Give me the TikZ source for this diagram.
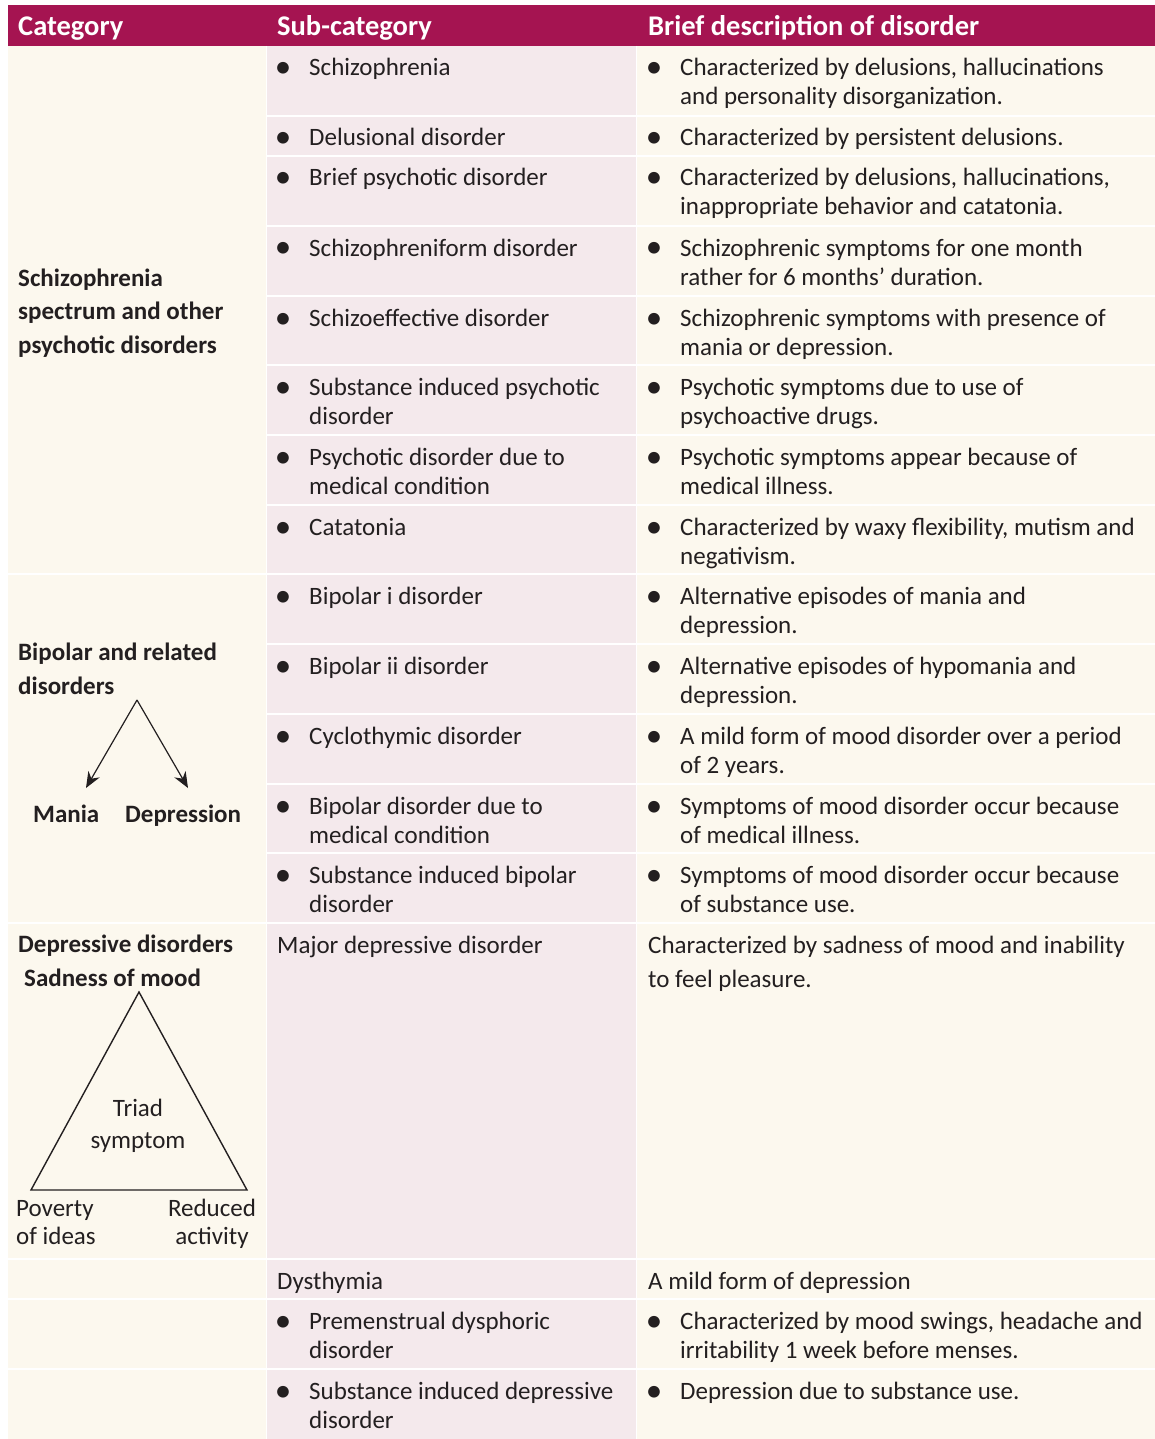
\documentclass[tikz,border=0pt]{standalone}
\usepackage{fontspec}
\setmainfont{Carlito}
\usetikzlibrary{arrows.meta}
\definecolor{hdrMagenta}{HTML}{A51451}
\definecolor{cellCream}{HTML}{FCF8EE}
\definecolor{cellPink}{HTML}{F4E9EC}
\definecolor{txtGray}{HTML}{231F20}
\tikzset{
  txt/.style={inner sep=0pt, anchor=base west, align=left, text=txtGray,
    font=\fontsize{25}{29}\selectfont},
  bul/.style={inner sep=0pt, anchor=base, text=txtGray, font=\fontsize{25}{29}\selectfont},
  dot/.style={bul, font=\fontsize{33}{29}\selectfont},
  hdr/.style={inner sep=0pt, anchor=base west, text=white, font=\bfseries\fontsize{28.5}{30}\selectfont},
  cat/.style={txt, font=\bfseries\fontsize{25}{33.5}\selectfont},
  wide/.style={txt, font=\fontsize{25}{34}\selectfont},
  sep/.style={draw=white, line width=2pt},
  fig/.style={draw=txtGray, line width=1.4pt},
  branch/.style={fig, line width=1.2pt, -{Stealth[length=16pt,width=13pt]}}
}
\begin{document}
\begin{tikzpicture}[x=1pt,y=-1pt]
  \useasboundingbox[fill=white] (0,0) rectangle (1155,1439);
  % backgrounds
  \fill[hdrMagenta] (8,5) rectangle (1155,46);
  \fill[cellCream] (8,46) rectangle (267,1439);
  \fill[cellPink] (267,46) rectangle (637,1439);
  \fill[cellCream] (637,46) rectangle (1155,1439);
  % row rules
  \foreach \y in {116,156,226,296,365,435,505,574,644,714,784,853,923,1259,1299,1369}
    \draw[sep] (267,\y) -- (1155,\y);
  \foreach \y in {574,923,1259,1299,1369}
    \draw[sep] (8,\y) -- (267,\y);
  \draw[sep, line width=1.5pt] (266.5,46) -- (266.5,1439);
  \draw[sep, line width=1.5pt] (636.5,46) -- (636.5,1439);

  % header
  \node[hdr] (hcat) at (18,36) {Category};
  \node[hdr] (hsub) at (277,36) {Sub-category};
  \node[hdr] (hdesc) at (648,36) {Brief description of disorder};

  % bullets
  \foreach \y [count=\i] in {76,146,186,256,326,395,465,535,604,674,744,814,883,1329,1399} {
    \node[dot] (sb\i) at (283,\y+2) {•};
    \node[dot] (db\i) at (654,\y+2) {•};
  }

  % schizophrenia spectrum (two-line texts sit on their last baseline)
  \node[txt] (s1) at (309,76) {Schizophrenia};
  \node[txt] (d1) at (680,105) {Characterized by delusions, hallucinations\\and personality disorganization.};
  \node[txt] (s2) at (309,146) {Delusional disorder};
  \node[txt] (d2) at (680,146) {Characterized by persistent delusions.};
  \node[txt] (s3) at (309,186) {Brief psychotic disorder};
  \node[txt] (d3) at (680,215) {Characterized by delusions, hallucinations,\\inappropriate behavior and catatonia.};
  \node[txt] (s4) at (309,256) {Schizophreniform disorder};
  \node[txt] (d4) at (680,285) {Schizophrenic symptoms for one month\\rather for 6 months’ duration.};
  \node[txt] (s5) at (309,326) {Schizoeffective disorder};
  \node[txt] (d5) at (680,355) {Schizophrenic symptoms with presence of\\mania or depression.};
  \node[txt] (s6) at (309,424) {Substance induced psychotic\\disorder};
  \node[txt] (d6) at (680,424) {Psychotic symptoms due to use of\\psychoactive drugs.};
  \node[txt] (s7) at (309,494) {Psychotic disorder due to\\medical condition};
  \node[txt] (d7) at (680,494) {Psychotic symptoms appear because of\\medical illness.};
  \node[txt] (s8) at (309,535) {Catatonia};
  \node[txt] (d8) at (680,564) {Characterized by waxy flexibility, mutism and\\negativism.};

  % bipolar
  \node[txt] (s9) at (309,604) {Bipolar i disorder};
  \node[txt] (d9) at (680,633) {Alternative episodes of mania and\\depression.};
  \node[txt] (s10) at (309,674) {Bipolar ii disorder};
  \node[txt] (d10) at (680,703) {Alternative episodes of hypomania and\\depression.};
  \node[txt] (s11) at (309,744) {Cyclothymic disorder};
  \node[txt] (d11) at (680,773) {A mild form of mood disorder over a period\\of 2 years.};
  \node[txt] (s12) at (309,843) {Bipolar disorder due to\\medical condition};
  \node[txt] (d12) at (680,843) {Symptoms of mood disorder occur because\\of medical illness.};
  \node[txt] (s13) at (309,912) {Substance induced bipolar\\disorder};
  \node[txt] (d13) at (680,912) {Symptoms of mood disorder occur because\\of substance use.};

  % depressive
  \node[txt] (s14) at (277,953) {Major depressive disorder};
  \node[wide] (d14) at (648,987) {Characterized by sadness of mood and inability\\to feel pleasure.};
  \node[txt] (s15) at (277,1289) {Dysthymia};
  \node[txt] (d15) at (648,1289) {A mild form of depression};
  \node[txt] (s16) at (309,1358) {Premenstrual dysphoric\\disorder};
  \node[txt] (d16) at (680,1358) {Characterized by mood swings, headache and\\irritability 1 week before menses.};
  \node[txt] (s17) at (309,1428) {Substance induced depressive\\disorder};
  \node[txt] (d17) at (680,1399) {Depression due to substance use.};

  % category column
  \node[cat] (cschizo) at (18,353) {Schizophrenia\\spectrum and other\\psychotic disorders};
  \node[cat] (cbipolar) at (18,694) {Bipolar and related\\disorders};
  \coordinate (bsplit) at (137,700);
  \coordinate (bleft) at (86,788);
  \coordinate (bright) at (188,788);
  \draw[branch] (bsplit) -- (bleft);
  \draw[branch] (bsplit) -- (bright);
  \node[cat] (mania) at (33,822) {Mania};
  \node[cat] (depr) at (125,822) {Depression};

  \node[cat] (cdepr) at (18,952) {Depressive disorders};
  \node[cat] (sad) at (24,986) {Sadness of mood};
  \coordinate (tTop) at (139,992);
  \coordinate (tLeft) at (31,1190);
  \coordinate (tRight) at (247,1190);
  \draw[fig, line join=miter] (tTop) -- (tLeft) -- (tRight) -- cycle;
  \node[bul, align=center, font=\fontsize{25}{32}\selectfont] (triad) at (138,1148) {Triad\\symptom};
  \node[txt, font=\fontsize{25}{28}\selectfont] (poverty) at (16,1244) {Poverty\\of ideas};
  \node[bul, align=center, font=\fontsize{25}{28}\selectfont] (reduced) at (212,1244) {Reduced\\activity};
\end{tikzpicture}
\end{document}
